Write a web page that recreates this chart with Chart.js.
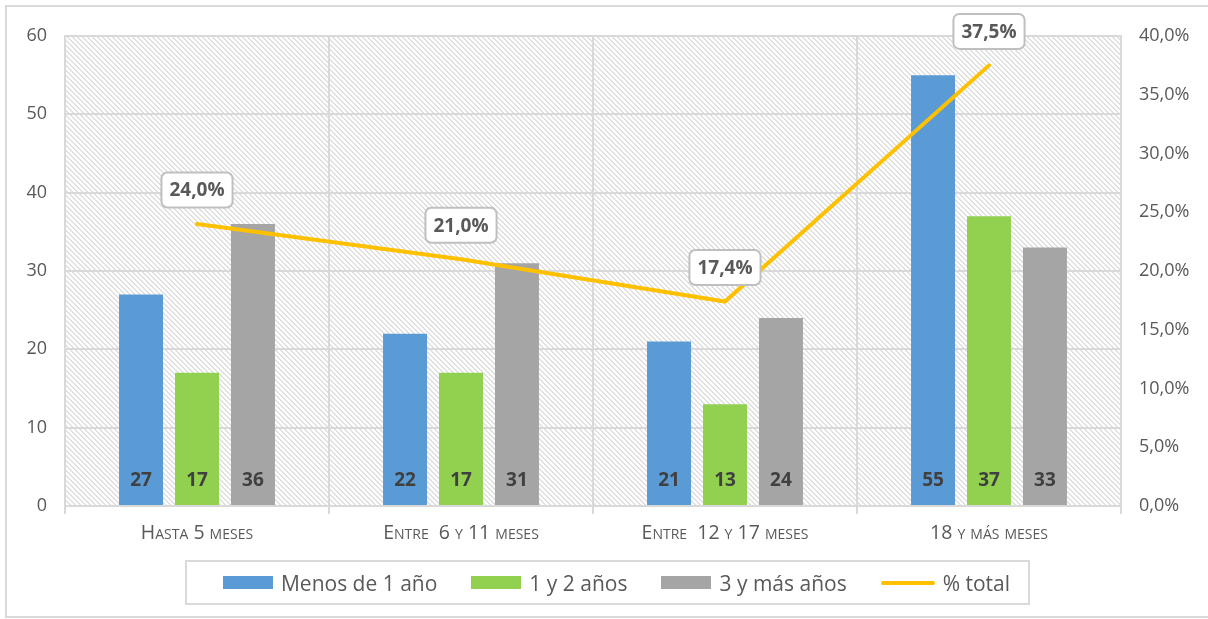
<!DOCTYPE html>
<html>
<head>
<meta charset="utf-8">
<title>Antigüedad</title>
<script src="https://cdn.jsdelivr.net/npm/chart.js@4"></script>
<style>
  html, body { margin: 0; padding: 0; background: #fff; }
  body { width: 1208px; height: 619px; position: relative; overflow: hidden; font-family: 'Open Sans', sans-serif; }
  #frame { position: absolute; left: 5px; top: 5px; width: 1230px; height: 613px; border: 2px solid #d9d9d9; box-sizing: border-box; }
  #myChart { position: absolute; left: 0; top: 0; }
  #legend { position: absolute; left: 185px; top: 560px; width: 845px; height: 45px; border: 2px solid #d9d9d9; box-sizing: border-box;
    display: flex; align-items: center; justify-content: center; padding-left: 18px; color: #595959; font-size: 21px; }
  .item { display: flex; align-items: center; margin: 0 17px; white-space: pre; }
  .swatch { width: 50px; height: 13px; margin-right: 8px; }
  .swatch.line { width: 54px; height: 4px; border-radius: 2px; }
</style>
</head>
<body>
<div id="frame"></div>
<canvas id="myChart" width="1208" height="619"></canvas>
<div id="legend"></div>
<script>
'use strict';

// chart data
let categories = ['Hasta 5 meses', 'Entre  6 y 11 meses', 'Entre  12 y 17 meses', '18 y más meses'];
let menosDeUnAnio = [27, 22, 21, 55];
let unoYDosAnios = [17, 17, 13, 37];
let tresYMasAnios = [36, 31, 24, 33];
let porcentajeTotal = [24.0, 21.0, 17.4, 37.5];

let seriesNames = ['Menos de 1 año', '1 y 2 años', '3 y más años', '% total'];
let seriesColors = ['#5B9BD5', '#92D050', '#A5A5A5', '#FFC000'];

let ctx = document.getElementById('myChart').getContext('2d');

// little tile for the striped plot background
function makeHatch() {
  let tile = document.createElement('canvas');
  tile.width = 5;
  tile.height = 5;
  let g = tile.getContext('2d');
  g.fillStyle = '#ffffff';
  g.fillRect(0, 0, 5, 5);
  g.fillStyle = '#e0e0e0';
  for (let i = 0; i < 5; i++) {
    g.fillRect(i, i, 1, 1);
    g.fillRect((i + 1) % 5, i, 1, 1);
  }
  return tile;
}

function pct(v) {
  return v.toFixed(1).replace('.', ',') + '%';
}

let hatchBackground = {
  id: 'hatchBackground',
  beforeDraw(chart) {
    let area = chart.chartArea;
    let c = chart.ctx;
    c.save();
    c.fillStyle = c.createPattern(makeHatch(), 'repeat');
    c.fillRect(area.left, area.top, area.right - area.left, area.bottom - area.top);
    c.restore();
  }
};

// values at the foot of the bars + boxed labels over the line
let valueLabels = {
  id: 'valueLabels',
  afterDatasetsDraw(chart) {
    let c = chart.ctx;
    c.save();
    c.textAlign = 'center';
    c.textBaseline = 'middle';

    c.font = "bold 19px 'Open Sans', sans-serif";
    c.fillStyle = '#404040';
    for (let i = 0; i < 3; i++) {
      let meta = chart.getDatasetMeta(i);
      let values = chart.data.datasets[i].data;
      meta.data.forEach((bar, j) => {
        c.fillText(values[j], bar.x, bar.base - 24);
      });
    }

    let lineMeta = chart.getDatasetMeta(3);
    lineMeta.data.forEach((pt, j) => {
      let text = pct(porcentajeTotal[j]);
      let w = c.measureText(text).width + 16;
      let h = 35;
      let cy = pt.y - 34;
      c.beginPath();
      c.roundRect(pt.x - w / 2, cy - h / 2, w, h, 6);
      c.fillStyle = '#ffffff';
      c.fill();
      c.lineWidth = 2;
      c.strokeStyle = '#bfbfbf';
      c.stroke();
      c.fillStyle = '#595959';
      c.fillText(text, pt.x, cy + 1);
    });
    c.restore();
  }
};

let chartObject = {
  type: 'bar',
  data: {
    labels: categories,
    datasets: [
      { label: seriesNames[0], data: menosDeUnAnio, backgroundColor: seriesColors[0], order: 1 },
      { label: seriesNames[1], data: unoYDosAnios, backgroundColor: seriesColors[1], order: 1 },
      { label: seriesNames[2], data: tresYMasAnios, backgroundColor: seriesColors[2], order: 1 },
      {
        type: 'line',
        label: seriesNames[3],
        data: porcentajeTotal,
        borderColor: seriesColors[3],
        backgroundColor: seriesColors[3],
        borderWidth: 4,
        borderCapStyle: 'round',
        pointRadius: 0,
        tension: 0,
        yAxisID: 'y1',
        order: 0
      }
    ]
  },
  options: {
    responsive: false,
    animation: false,
    categoryPercentage: 0.636,
    barPercentage: 0.786,
    layout: { padding: { top: 36, left: 0, right: 0, bottom: 53 } },
    plugins: {
      legend: { display: false },
      tooltip: { enabled: false }
    },
    scales: {
      x: {
        offset: true,
        grid: { offset: true, color: '#d9d9d9', lineWidth: 2, tickLength: 8 },
        border: { color: '#d9d9d9', width: 2 },
        ticks: {
          color: '#595959',
          padding: 8,
          maxRotation: 0,
          font: { family: "'Open Sans', sans-serif", size: 19.5, weight: 'small-caps' }
        },
        afterFit(scale) { scale.height = 60; }
      },
      y: {
        position: 'left',
        min: 0,
        max: 60,
        ticks: {
          stepSize: 10,
          color: '#595959',
          padding: 18,
          font: { family: "'Open Sans', sans-serif", size: 18 }
        },
        grid: { color: '#d9d9d9', lineWidth: 2, drawTicks: false },
        border: { color: '#d9d9d9', width: 2 },
        afterFit(scale) { scale.width = 65; }
      },
      y1: {
        position: 'right',
        min: 0,
        max: 40,
        ticks: {
          stepSize: 5,
          color: '#595959',
          padding: 18,
          callback: (v) => pct(v),
          font: { family: "'Open Sans', sans-serif", size: 18 }
        },
        grid: { drawOnChartArea: false, drawTicks: false },
        border: { color: '#d9d9d9', width: 2 },
        afterFit(scale) { scale.width = 87; }
      }
    }
  },
  plugins: [hatchBackground, valueLabels]
};

let myChart = new Chart(ctx, chartObject); //eslint-disable-line

// html legend built from the datasets
let legendBox = document.getElementById('legend');
myChart.data.datasets.forEach((ds) => {
  let item = document.createElement('div');
  item.className = 'item';
  let sw = document.createElement('span');
  sw.className = ds.type === 'line' ? 'swatch line' : 'swatch';
  sw.style.background = ds.type === 'line' ? ds.borderColor : ds.backgroundColor;
  let txt = document.createElement('span');
  txt.textContent = ds.label;
  item.appendChild(sw);
  item.appendChild(txt);
  legendBox.appendChild(item);
});
</script>
</body>
</html>
